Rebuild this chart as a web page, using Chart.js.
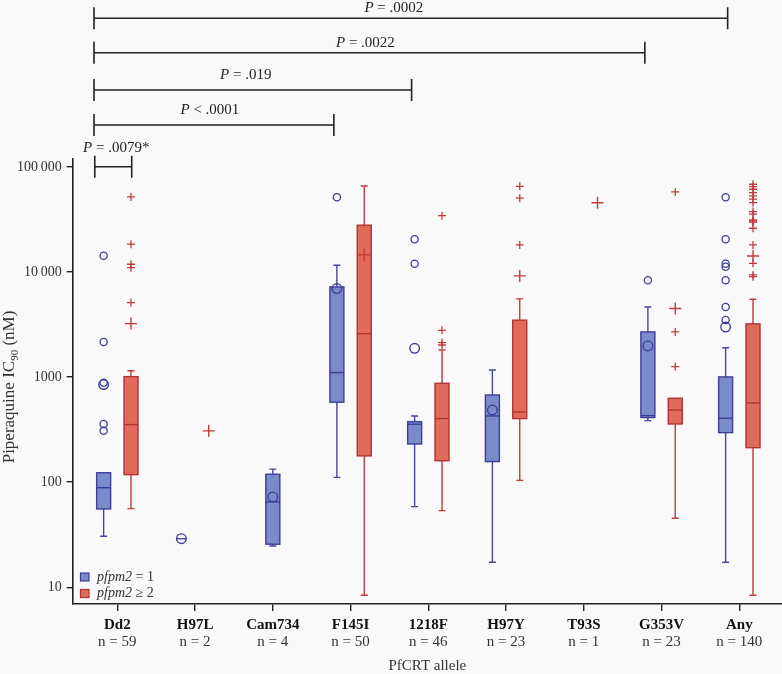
<!DOCTYPE html>
<html>
<head>
<meta charset="utf-8">
<script src="https://cdn.jsdelivr.net/npm/chart.js@4/dist/chart.umd.min.js"></script>
<style>
html,body{margin:0;padding:0;background:#f9f9f9;}
#wrap{width:782px;height:674px;}
</style>
</head>
<body>
<div id="wrap"><canvas id="c" width="782" height="674"></canvas></div>
<script>
// ---------------- DATA ----------------
const categories = ['Dd2','H97L','Cam734','F145I','1218F','H97Y','T93S','G353V','Any'];
const sampleSizes = ['n = 59','n = 2','n = 4','n = 50','n = 46','n = 23','n = 1','n = 23','n = 140'];

const yTickValues = [10, 100, 1000, 10000, 100000];
const yTickLabels = ['10', '100', '1000', '10\u2009000', '100\u2009000'];

// pfpm2 = 1 (blue)
const blueWhiskerLow  = [30.6, 29, 24.7, 111, 58.5, 17.3, null, 385, 17.3];
const blueQ1          = [55.6, 29, 25.7, 577, 231, 157, null, 412, 296];
const blueMedian      = [88.7, 29, 65, 1104, 356, 427, null, 430, 406];
const blueQ3          = [123, 29, 119, 7210, 377, 676, null, 2690, 1004];
const blueWhiskerHigh = [123, 29, 133, 11600, 427, 1170, null, 4650, 1900];
const blueMean        = [850, 29, 72.4, 6950, 1880, 486, null, 1980, 2990];
const blueOutliers = [
  [14300, 2160, 885, 358, 308], [], [], [51500], [20500, 12000], [], [], [8350],
  [51500, 20500, 12000, 11240, 8350, 4650, 3500]
];

// pfpm2 >= 2 (red)
const redWhiskerLow  = [56, null, null, 8.4, 53.6, 104, null, 45.4, 8.4];
const redQ1          = [118, null, null, 178, 160, 403, null, 358, 213];
const redMedian      = [353, null, null, 2590, 403, 466, null, 486, 568];
const redQ3          = [1010, null, null, 27900, 873, 3480, null, 629, 3210];
const redWhiskerHigh = [1150, null, null, 65900, 1810, 5550, null, 629, 5510];
const redMean        = [3230, 308, null, 14600, null, 9180, 45700, 4490, 14200];
const redOutliers = [
  [51800, 18400, 11860, 11000, 5110], [], [], [], [34400, 2790, 2130, 2020],
  [65400, 50400, 18100], [], [57800, 2690, 1260],
  [68400, 64900, 61300, 57000, 53000, 49300, 45700, 37600, 35500, 31300, 30600, 29800, 26100, 18100, 12100, 9380, 9040]
];

// significance brackets (category units)
const bracketLabels = ['= .0002', '= .0022', '= .019', '< .0001', '= .0079*'];
const bracketStart  = [-0.30, -0.30, -0.30, -0.30, -0.29];
const bracketEnd    = [7.85, 6.785, 3.785, 2.785, 0.185];

// ---------------- LAYOUT / STYLE ----------------
const seriesOffset = 0.176;
const blueCentered = ['Cam734'];
const boxHalf = 0.09, capHalf = 0.045;
const bracketRowY = [18.3, 52.7, 90, 125, 166.7];
const bracketLabelY = [8, 43, 75, 110, 148];
const bracketLabelShift = [-17, -4, -7, -4, 3];
const SERIF = '"Liberation Serif", "DejaVu Serif", serif';
const BLUE = {fill:'#7a8bc9', stroke:'#3e3e98', line:'#4646a0'};
const RED  = {fill:'#df6b5b', stroke:'#b33232', line:'#c43a3e'};

function xBlue(i){ return blueCentered.includes(categories[i]) ? i : i - seriesOffset; }
function xRed(i){ return i + seriesOffset; }

function pts(arr, xf){
  const out = [];
  arr.forEach((v,i)=>{ if(v!=null) out.push({x:xf(i), y:v}); });
  return out;
}
function outPts(arr, xf){
  const out = [];
  arr.forEach((list,i)=>list.forEach(v=>out.push({x:xf(i), y:v})));
  return out;
}

const bgPlugin = {
  id:'bg',
  beforeDraw(chart){
    const c = chart.ctx; c.save(); c.fillStyle='#f9f9f9';
    c.fillRect(0,0,chart.width,chart.height); c.restore();
  }
};

function drawBoxes(chart, lo, q1, med, q3, hi, xf, col){
  const {ctx, scales:{x, y}} = chart;
  const hw = x.getPixelForValue(boxHalf) - x.getPixelForValue(0);
  const cw = x.getPixelForValue(capHalf) - x.getPixelForValue(0);
  ctx.save();
  ctx.lineWidth = 1.4;
  categories.forEach((c,i)=>{
    if(q1[i]==null) return;
    const cx = x.getPixelForValue(xf(i));
    const pLo = y.getPixelForValue(lo[i]), pQ1 = y.getPixelForValue(q1[i]);
    const pMed = y.getPixelForValue(med[i]), pQ3 = y.getPixelForValue(q3[i]);
    const pHi = y.getPixelForValue(hi[i]);
    ctx.strokeStyle = col.line;
    if(q1[i] === q3[i]){
      ctx.beginPath(); ctx.moveTo(cx-cw*1.5, pMed); ctx.lineTo(cx+cw*1.5, pMed); ctx.stroke();
      return;
    }
    ctx.beginPath();
    if(hi[i] > q3[i]){ ctx.moveTo(cx,pQ3); ctx.lineTo(cx,pHi); ctx.moveTo(cx-cw,pHi); ctx.lineTo(cx+cw,pHi); }
    if(lo[i] < q1[i]){ ctx.moveTo(cx,pQ1); ctx.lineTo(cx,pLo); ctx.moveTo(cx-cw,pLo); ctx.lineTo(cx+cw,pLo); }
    ctx.stroke();
    ctx.fillStyle = col.fill; ctx.strokeStyle = col.stroke;
    ctx.fillRect(cx-hw, pQ3, 2*hw, pQ1-pQ3);
    ctx.strokeRect(cx-hw, pQ3, 2*hw, pQ1-pQ3);
    ctx.beginPath(); ctx.moveTo(cx-hw, pMed); ctx.lineTo(cx+hw, pMed); ctx.stroke();
  });
  ctx.restore();
}

const boxPlugin = {
  id:'boxes',
  beforeDatasetsDraw(chart){
    drawBoxes(chart, blueWhiskerLow, blueQ1, blueMedian, blueQ3, blueWhiskerHigh, xBlue, BLUE);
    drawBoxes(chart, redWhiskerLow, redQ1, redMedian, redQ3, redWhiskerHigh, xRed, RED);
  }
};

function drawPText(ctx, rest, cx, cy, size){
  ctx.font = 'italic ' + size + 'px ' + SERIF;
  const wP = ctx.measureText('P').width;
  ctx.font = size + 'px ' + SERIF;
  const wR = ctx.measureText(' ' + rest).width;
  const x0 = cx - (wP + wR)/2;
  ctx.textAlign = 'left'; ctx.textBaseline = 'middle';
  ctx.font = 'italic ' + size + 'px ' + SERIF;
  ctx.fillText('P', x0, cy);
  ctx.font = size + 'px ' + SERIF;
  ctx.fillText(' ' + rest, x0 + wP, cy);
}

const annoPlugin = {
  id:'anno',
  afterDraw(chart){
    const {ctx, scales:{x, y}, chartArea} = chart;
    ctx.save();
    ctx.fillStyle = '#222'; ctx.strokeStyle = '#222'; ctx.lineWidth = 1.6;
    // brackets
    bracketLabels.forEach((lab, k)=>{
      const x1 = x.getPixelForValue(bracketStart[k]);
      const x2 = x.getPixelForValue(bracketEnd[k]);
      const yy = bracketRowY[k];
      ctx.beginPath();
      ctx.moveTo(x1, yy); ctx.lineTo(x2, yy);
      ctx.moveTo(x1, yy-11); ctx.lineTo(x1, yy+11);
      ctx.moveTo(x2, yy-11); ctx.lineTo(x2, yy+11);
      ctx.stroke();
      drawPText(ctx, lab, (x1+x2)/2 + bracketLabelShift[k], bracketLabelY[k], 15);
    });
    // category labels
    ctx.textAlign = 'center'; ctx.textBaseline = 'middle';
    categories.forEach((c,i)=>{
      const px = x.getPixelForValue(i);
      ctx.font = 'bold 15px ' + SERIF; ctx.fillStyle = '#111';
      ctx.fillText(c, px, 625);
      ctx.font = '15px ' + SERIF; ctx.fillStyle = '#333';
      ctx.fillText(sampleSizes[i], px, 642);
    });
    // x title
    ctx.font = '15px ' + SERIF; ctx.fillStyle = '#333';
    ctx.fillText('PfCRT allele', (chartArea.left + chartArea.right)/2, 666);
    // y title
    ctx.save();
    ctx.translate(10, 387); ctx.rotate(-Math.PI/2);
    const s1 = 'Piperaquine IC', s2 = '90', s3 = ' (nM)';
    ctx.font = '17px ' + SERIF; const w1 = ctx.measureText(s1).width, w3 = ctx.measureText(s3).width;
    ctx.font = '11px ' + SERIF; const w2 = ctx.measureText(s2).width;
    let xx = -(w1+w2+w3)/2;
    ctx.textAlign = 'left'; ctx.textBaseline = 'middle';
    ctx.font = '17px ' + SERIF; ctx.fillText(s1, xx, 0); xx += w1;
    ctx.font = '11px ' + SERIF; ctx.fillText(s2, xx, 5); xx += w2;
    ctx.font = '17px ' + SERIF; ctx.fillText(s3, xx, 0);
    ctx.restore();
    // legend
    const items = [[' = 1', BLUE, 577], [' \u2265 2', RED, 593.5]];
    items.forEach(([rest, col, cy])=>{
      ctx.fillStyle = col.fill; ctx.strokeStyle = col.stroke; ctx.lineWidth = 1.2;
      ctx.fillRect(80.5, cy-4, 8.5, 8); ctx.strokeRect(80.5, cy-4, 8.5, 8);
      ctx.fillStyle = '#333'; ctx.textAlign = 'left'; ctx.textBaseline = 'middle';
      ctx.font = 'italic 14px ' + SERIF;
      ctx.fillText('pfpm2', 97, cy);
      const w = ctx.measureText('pfpm2').width;
      ctx.font = '14px ' + SERIF;
      ctx.fillText(rest, 97 + w, cy);
    });
    ctx.restore();
  }
};

new Chart(document.getElementById('c'), {
  type: 'scatter',
  data: {
    datasets: [
      {label:'blue outliers', data: outPts(blueOutliers, xBlue), pointStyle:'circle', pointRadius:3.6, backgroundColor:'rgba(0,0,0,0)', borderColor:BLUE.stroke, pointBorderWidth:1.3},
      {label:'blue mean', data: pts(blueMean, xBlue), pointStyle:'circle', pointRadius:4.8, backgroundColor:'rgba(0,0,0,0)', borderColor:BLUE.stroke, pointBorderWidth:1.4},
      {label:'red outliers', data: outPts(redOutliers, xRed), pointStyle:'cross', pointRadius:4, backgroundColor:RED.line, borderColor:RED.line, pointBorderWidth:1.3},
      {label:'red mean', data: pts(redMean, xRed), pointStyle:'cross', pointRadius:6, backgroundColor:RED.line, borderColor:RED.line, pointBorderWidth:1.4}
    ]
  },
  options: {
    responsive:false, animation:false, devicePixelRatio:1,
    layout:{padding:{top:159, right:0, bottom:0, left:0}, autoPadding:false},
    plugins:{legend:{display:false}, tooltip:{enabled:false}},
    elements:{point:{hoverRadius:0}},
    scales:{
      x:{
        type:'linear', min:-0.574, max:8.549,
        afterBuildTicks(s){ s.ticks = categories.map((c,i)=>({value:i})); },
        afterFit(s){ s.height = 70; s.paddingRight = 0; s.paddingLeft = 0; },
        ticks:{autoSkip:false, padding:0, callback:()=> '', font:{size:1}},
        grid:{drawOnChartArea:false, drawTicks:true, tickLength:7, color:'#222', lineWidth:1.4},
        border:{display:true, color:'#222', width:1.6}
      },
      y:{
        type:'logarithmic', min:6.93, max:119000,
        afterBuildTicks(s){ s.ticks = yTickValues.map(v=>({value:v})); },
        afterFit(s){ s.width = 72.7; s.paddingTop = 0; s.paddingBottom = 0; },
        ticks:{autoSkip:false, padding:5, color:'#333', font:{family:SERIF, size:14},
          callback:(v)=>{ const k = yTickValues.indexOf(v); return k>=0 ? yTickLabels[k] : ''; }},
        grid:{drawOnChartArea:false, drawTicks:true, tickLength:6, color:'#222', lineWidth:1.4},
        border:{display:true, color:'#222', width:1.6}
      }
    }
  },
  plugins:[bgPlugin, boxPlugin, annoPlugin]
});
</script>
</body>
</html>
